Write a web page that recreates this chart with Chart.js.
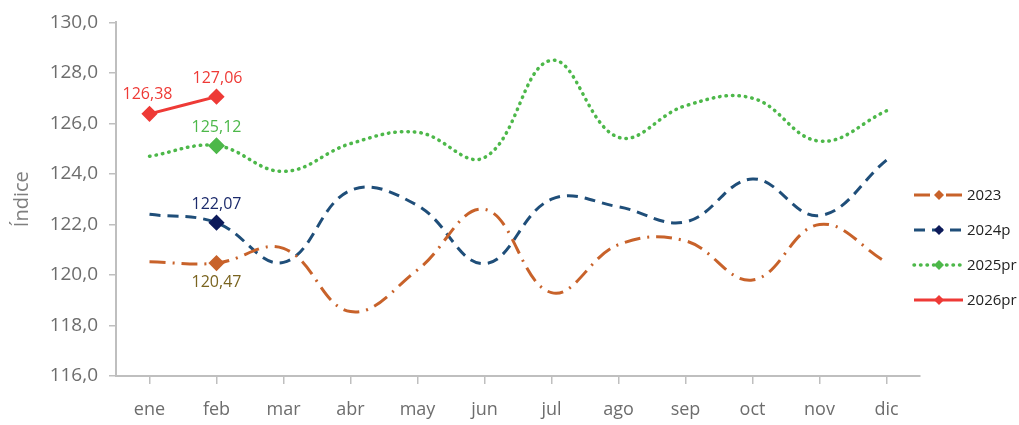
<!DOCTYPE html>
<html>
<head>
<meta charset="utf-8">
<script src="https://cdn.jsdelivr.net/npm/chart.js@4/dist/chart.umd.min.js"></script>
<style>
  body { margin: 0; background: #fff; }
  #wrap { width: 1019px; height: 425px; }
</style>
</head>
<body>
<div id="wrap"><canvas id="grafico" width="1019" height="425"></canvas></div>
<script>
// datos
const meses = ['ene','feb','mar','abr','may','jun','jul','ago','sep','oct','nov','dic'];
const serie2023 = [120.52,120.47,121.05,118.55,120.2,122.6,119.3,121.2,121.35,119.8,122.0,120.5];
const serie2024p = [122.4,122.07,120.5,123.35,122.75,120.45,123.0,122.7,122.1,123.8,122.35,124.55];
const serie2025pr = [124.7,125.12,124.1,125.2,125.65,124.65,128.5,125.45,126.7,127.0,125.3,126.5];
const serie2026pr = [126.38,127.06];
const ticksY = [116,118,120,122,124,126,128,130];

const ctx = document.getElementById('grafico');
const fuente = "'Open Sans', 'Noto Sans', sans-serif";

// solo un rombo en los puntos con etiqueta
function radios(n, cuales){
  let r = [];
  for(let i = 0; i<n; i++){
    r.push(cuales.includes(i) ? 6 : 0);
  }
  return r;
}

function fmt(v, dec){
  return v.toFixed(dec).replace('.', ',');
}

// etiquetas de datos (dataset, indice, color, desplazamiento)
const etiquetas = [
  {ds: 3, i: 0, color: '#ee3a36', dx: -2, dy: -19},
  {ds: 3, i: 1, color: '#ee3a36', dx: 1, dy: -18},
  {ds: 2, i: 1, color: '#4db84a', dx: 0, dy: -18},
  {ds: 1, i: 1, color: '#1b2a6b', dx: 0, dy: -18},
  {ds: 0, i: 1, color: '#7a6420', dx: 0, dy: 19}
];

const pluginEtiquetas = {
  id: 'etiquetas',
  afterDatasetsDraw(chart){
    const c = chart.ctx;
    c.save();
    c.font = '16px ' + fuente;
    c.textAlign = 'center';
    c.textBaseline = 'middle';
    etiquetas.forEach(e => {
      const p = chart.getDatasetMeta(e.ds).data[e.i];
      const v = chart.data.datasets[e.ds].data[e.i];
      c.fillStyle = e.color;
      c.fillText(fmt(v, 2), p.x + e.dx, p.y + e.dy);
    });
    c.restore();
  }
};

// leyenda a mano con linea + rombo
const pluginLeyenda = {
  id: 'leyenda',
  afterDraw(chart){
    const c = chart.ctx;
    const x0 = 914, y0 = 195, paso = 35;
    c.save();
    chart.data.datasets.forEach((d, k) => {
      const y = y0 + k*paso;
      c.strokeStyle = d.borderColor;
      c.lineWidth = d.borderWidth;
      c.lineCap = d.borderCapStyle || 'butt';
      c.setLineDash(d.borderDash || []);
      c.beginPath();
      c.moveTo(x0, y);
      c.lineTo(x0 + 49, y);
      c.stroke();
      c.setLineDash([]);
      c.fillStyle = d.pointBackgroundColor;
      c.beginPath();
      c.moveTo(x0 + 25, y - 5);
      c.lineTo(x0 + 30, y);
      c.lineTo(x0 + 25, y + 5);
      c.lineTo(x0 + 20, y);
      c.closePath();
      c.fill();
      c.fillStyle = '#222';
      c.font = '15px ' + fuente;
      c.textAlign = 'left';
      c.textBaseline = 'middle';
      c.fillText(d.label, x0 + 53, y + 1);
    });
    c.restore();
  }
};

new Chart(ctx, {
  type: 'line',
  data: {
    labels: meses,
    datasets: [
      {
        label: '2023',
        data: serie2023,
        borderColor: '#c8622a',
        backgroundColor: '#c8622a',
        pointBackgroundColor: '#c8622a',
        pointBorderColor: '#c8622a',
        borderWidth: 3,
        borderDash: [16,7,2,7],
        pointStyle: 'rectRot',
        pointRadius: radios(12, [1]),
        tension: 0.4
      },
      {
        label: '2024p',
        data: serie2024p,
        borderColor: '#1f4e79',
        backgroundColor: '#1f4e79',
        pointBackgroundColor: '#0d1a5a',
        pointBorderColor: '#0d1a5a',
        borderWidth: 3,
        borderDash: [11,7],
        pointStyle: 'rectRot',
        pointRadius: radios(12, [1]),
        tension: 0.4
      },
      {
        label: '2025pr',
        data: serie2025pr,
        borderColor: '#4db84a',
        backgroundColor: '#4db84a',
        pointBackgroundColor: '#4db84a',
        pointBorderColor: '#4db84a',
        borderWidth: 3.5,
        borderDash: [0.5,6],
        borderCapStyle: 'round',
        pointStyle: 'rectRot',
        pointRadius: radios(12, [1]),
        tension: 0.4
      },
      {
        label: '2026pr',
        data: serie2026pr,
        borderColor: '#ee3a36',
        backgroundColor: '#ee3a36',
        pointBackgroundColor: '#ee3a36',
        pointBorderColor: '#ee3a36',
        borderWidth: 3,
        pointStyle: 'rectRot',
        pointRadius: 6,
        tension: 0.4
      }
    ]
  },
  options: {
    responsive: false,
    animation: false,
    layout: { padding: { top: 15, right: 99, left: 0, bottom: 0 } },
    plugins: {
      legend: { display: false },
      tooltip: { enabled: false }
    },
    scales: {
      x: {
        offset: true,
        grid: { drawOnChartArea: false, drawTicks: true, tickLength: 8, color: '#bfbfbf', lineWidth: 1.5 },
        border: { color: '#bfbfbf', width: 2 },
        ticks: { color: '#6d6d6d', font: { size: 18, family: fuente }, padding: 15 },
        afterFit(scale){ scale.height = 49; }
      },
      y: {
        min: 116,
        max: 130,
        afterBuildTicks(scale){ scale.ticks = ticksY.map(v => ({value: v})); },
        grid: { drawOnChartArea: false, drawTicks: true, tickLength: 7, color: '#bfbfbf', lineWidth: 1.5 },
        border: { color: '#bfbfbf', width: 2 },
        ticks: {
          color: '#6d6d6d',
          font: { size: 19, family: fuente },
          padding: 11,
          callback: v => fmt(v, 1)
        },
        title: { display: true, text: 'Índice', color: '#7f7f7f', font: { size: 20, family: fuente }, padding: { top: 10, bottom: 4 } },
        afterFit(scale){ scale.width = 116; }
      }
    }
  },
  plugins: [pluginEtiquetas, pluginLeyenda]
});
</script>
</body>
</html>
